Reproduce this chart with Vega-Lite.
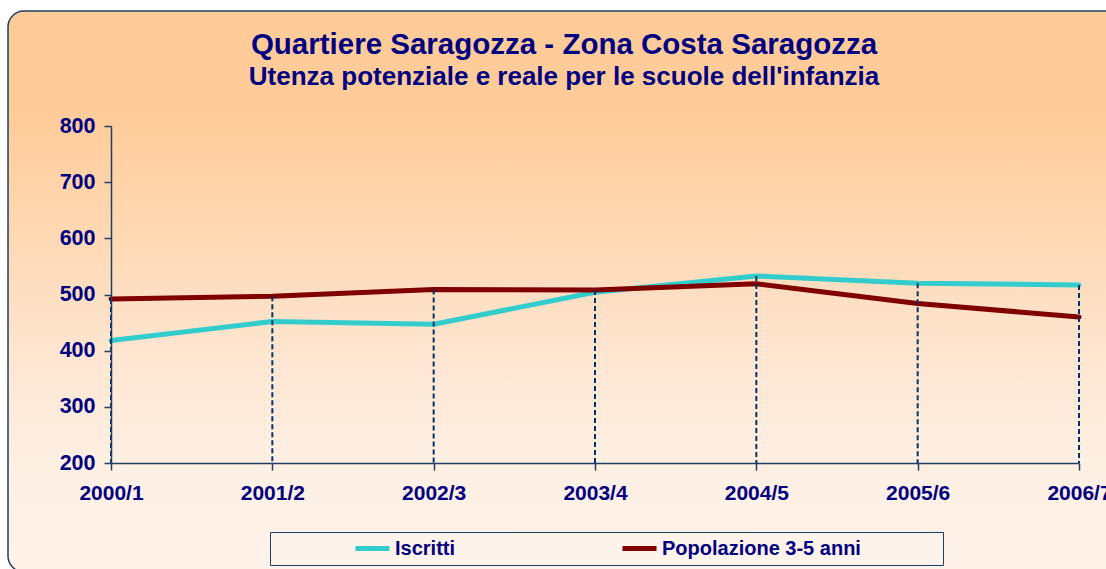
{
  "$schema": "https://vega.github.io/schema/vega-lite/v6.json",
  "width": 1112,
  "height": 561,
  "autosize": {"type": "none"},
  "padding": {"left": 8, "top": 11, "right": -14, "bottom": -3},
  "background": "#FFFFFF",
  "config": {
    "font": "Liberation Sans",
    "view": {
      "fill": {
        "gradient": "linear", "x1": 0, "y1": 0, "x2": 0, "y2": 1,
        "stops": [
          {"offset": 0, "color": "#FFCC99"},
          {"offset": 0.18, "color": "#FFCC99"},
          {"offset": 0.43, "color": "#FEDAB8"},
          {"offset": 0.62, "color": "#FEE6D2"},
          {"offset": 0.8, "color": "#FEEFE3"},
          {"offset": 1, "color": "#FEF3EA"}
        ]
      },
      "stroke": "#1F3E63",
      "strokeWidth": 1.5,
      "cornerRadius": 16
    }
  },
  "title": {
    "text": "Quartiere Saragozza - Zona Costa Saragozza",
    "subtitle": "Utenza potenziale e reale per le scuole dell'infanzia",
    "anchor": "middle",
    "frame": "group",
    "font": "Liberation Sans",
    "fontSize": 29.5,
    "fontWeight": "bold",
    "color": "#000080",
    "subtitleFont": "Liberation Sans",
    "subtitleFontSize": 26,
    "subtitleFontWeight": "bold",
    "subtitleColor": "#000080",
    "subtitlePadding": 4,
    "offset": -80
  },
  "data": {
    "values": [
      {"anno": "2000/1", "serie": "Iscritti", "valore": 418},
      {"anno": "2001/2", "serie": "Iscritti", "valore": 452},
      {"anno": "2002/3", "serie": "Iscritti", "valore": 447},
      {"anno": "2003/4", "serie": "Iscritti", "valore": 504},
      {"anno": "2004/5", "serie": "Iscritti", "valore": 533},
      {"anno": "2005/6", "serie": "Iscritti", "valore": 520},
      {"anno": "2006/7", "serie": "Iscritti", "valore": 517},
      {"anno": "2000/1", "serie": "Popolazione 3-5 anni", "valore": 492},
      {"anno": "2001/2", "serie": "Popolazione 3-5 anni", "valore": 497},
      {"anno": "2002/3", "serie": "Popolazione 3-5 anni", "valore": 509},
      {"anno": "2003/4", "serie": "Popolazione 3-5 anni", "valore": 508},
      {"anno": "2004/5", "serie": "Popolazione 3-5 anni", "valore": 519},
      {"anno": "2005/6", "serie": "Popolazione 3-5 anni", "valore": 484},
      {"anno": "2006/7", "serie": "Popolazione 3-5 anni", "valore": 460}
    ]
  },
  "layer": [
    {
      "mark": {"type": "line", "strokeWidth": 5, "strokeCap": "round", "strokeJoin": "round"},
      "encoding": {
        "x": {
          "field": "anno",
          "type": "ordinal",
          "scale": {"type": "point", "range": [103, 1071], "padding": 0},
          "axis": {
            "title": null,
            "orient": "bottom",
            "offset": -109,
            "labelAngle": 0,
            "labelFont": "Liberation Sans",
            "labelFontSize": 21,
            "labelFontWeight": "bold",
            "labelColor": "#000080",
            "labelPadding": 12,
            "labelBound": false,
            "labelOverlap": false,
            "labelFlush": false,
            "tickSize": 7,
            "tickWidth": 1.5,
            "tickColor": "#1F3E63",
            "domainColor": "#1F3E63",
            "domainWidth": 1.5,
            "grid": false,
            "zindex": 1
          }
        },
        "y": {
          "field": "valore",
          "type": "quantitative",
          "scale": {"domain": [200, 800], "range": [452, 115], "nice": false, "zero": false},
          "axis": {
            "title": null,
            "orient": "left",
            "offset": -103,
            "values": [200, 300, 400, 500, 600, 700, 800],
            "labelFont": "Liberation Sans",
            "labelFontSize": 21.5,
            "labelFontWeight": "bold",
            "labelColor": "#000080",
            "labelPadding": 9,
            "labelBound": false,
            "labelOverlap": false,
            "labelFlush": false,
            "tickSize": 7,
            "tickWidth": 1.5,
            "tickColor": "#1F3E63",
            "domainColor": "#1F3E63",
            "domainWidth": 1.5,
            "grid": false,
            "zindex": 1
          }
        },
        "color": {
          "field": "serie",
          "type": "nominal",
          "scale": {"domain": ["Iscritti", "Popolazione 3-5 anni"], "range": ["#33CCCC", "#800000"]},
          "legend": {
            "title": null,
            "orient": "none",
            "legendX": 262,
            "legendY": 521,
            "direction": "horizontal",
            "symbolType": "stroke",
            "symbolSize": 1156,
            "symbolStrokeWidth": 5,
            "symbolOffset": 76.5,
            "labelOffset": 3,
            "clipHeight": 20,
            "columnPadding": 88,
            "padding": 6.5,
            "fillColor": "#FEF3EA",
            "strokeColor": "#1F3E63",
            "labelFont": "Liberation Sans",
            "labelFontSize": 20,
            "labelFontWeight": "bold",
            "labelColor": "#000080",
            "labelLimit": 600,
            "labelExpr": "datum.label == 'Popolazione 3-5 anni' ? datum.label + '\u2800\u2800\u2800\u2800\u2800' : datum.label"
          }
        }
      }
    },
    {
      "transform": [
        {"joinaggregate": [{"op": "max", "field": "valore", "as": "massimo"}], "groupby": ["anno"]},
        {"filter": "datum.valore == datum.massimo"}
      ],
      "mark": {"type": "rule", "strokeDash": [5, 3], "strokeWidth": 2, "color": "#003366"},
      "encoding": {
        "x": {"field": "anno", "type": "ordinal"},
        "y": {"field": "valore", "type": "quantitative"},
        "y2": {"datum": 200}
      }
    }
  ]
}
